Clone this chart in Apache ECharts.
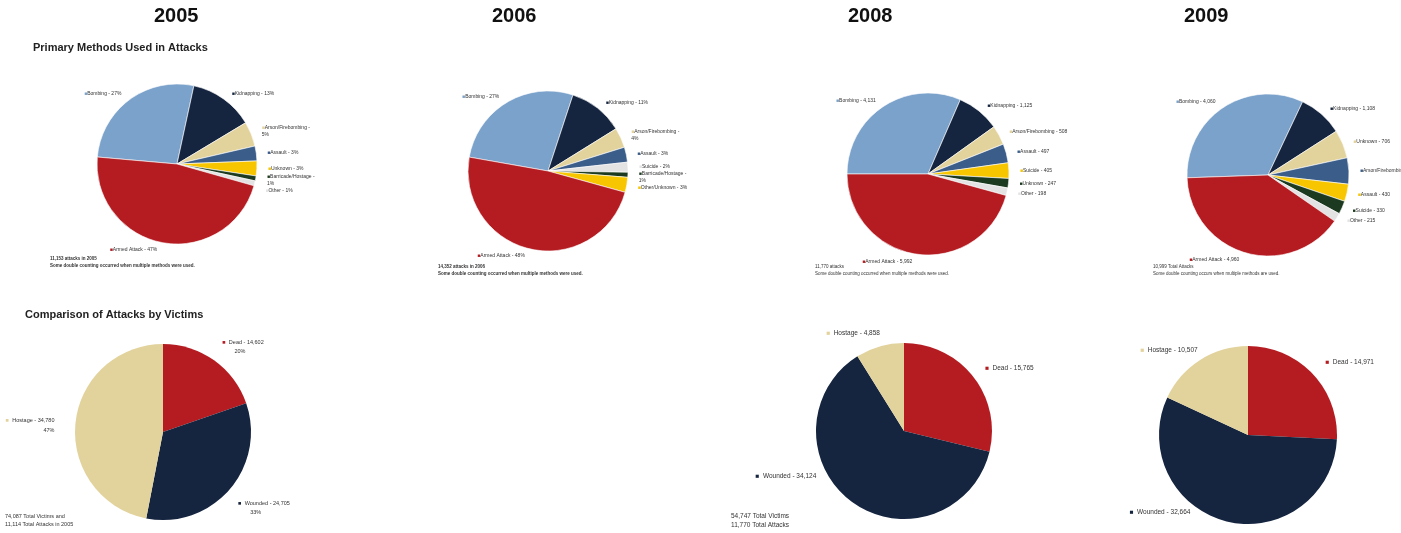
<!DOCTYPE html>
<html><head><meta charset="utf-8">
<script src="https://cdn.jsdelivr.net/npm/echarts@6/dist/echarts.min.js"></script>
<style>html,body{margin:0;padding:0;background:#fff}#c{width:1401px;height:533px}</style>
</head><body><div id="c"></div>
<script>
// ---- DATA ----
const yearLabels = ['2005', '2006', '2008', '2009'];
const methods2005Names = ['Bombing', 'Kidnapping', 'Arson/Firebombing', 'Assault', 'Unknown', 'Barricade/Hostage', 'Other', 'Armed Attack'];
const methods2005Pct = [27, 13, 5, 3, 3, 1, 1, 47];
const methods2006Names = ['Bombing', 'Kidnapping', 'Arson/Firebombing', 'Assault', 'Suicide', 'Barricade/Hostage', 'Other/Unknown', 'Armed Attack'];
const methods2006Pct = [27, 11, 4, 3, 2, 1, 3, 48];
const methods2008Names = ['Bombing', 'Kidnapping', 'Arson/Firebombing', 'Assault', 'Suicide', 'Unknown', 'Other', 'Armed Attack'];
const methods2008Counts = [4131, 1125, 508, 497, 405, 247, 198, 5992];
const methods2009Names = ['Bombing', 'Kidnapping', 'Unknown', 'Arson/Firebombing', 'Assault', 'Suicide', 'Other', 'Armed Attack'];
const methods2009Counts = [4060, 1108, 706, 651, 430, 330, 215, 4960];
const victimNames = ['Dead', 'Wounded', 'Hostage'];
const victims2005 = [14602, 24705, 34780];
const victims2005Pct = [20, 33, 47];
const victims2008 = [15765, 34124, 4858];
const victims2009 = [14971, 32664, 10507];
const notesTop = [
  ['11,153 attacks in 2005', 'Some double counting occurred when multiple methods were used.'],
  ['14,352 attacks in 2006', 'Some double counting occurred when multiple methods were used.'],
  ['11,770 attacks', 'Some double counting occurred when multiple methods were used.'],
  ['10,999 Total Attacks', 'Some double counting occurs when multiple methods are used.']
];
const notesBottom = [
  ['74,087 Total Victims and', '11,114 Total Attacks in 2005'],
  ['54,747 Total Victims', '11,770 Total Attacks']
];

// ---- STYLE ----
const C = { lb: '#7ba2cb', navy: '#15243f', tan: '#e2d29c', steel: '#3b5d89', yel: '#f7c600', dg: '#1b3a1f', lg: '#e3e3e3', red: '#b41c22' };
const col2005 = [C.lb, C.navy, C.tan, C.steel, C.yel, C.dg, C.lg, C.red];
const col2006 = [C.lb, C.navy, C.tan, C.steel, C.lg, C.dg, C.yel, C.red];
const col2008 = [C.lb, C.navy, C.tan, C.steel, C.yel, C.dg, C.lg, C.red];
const col2009 = [C.lb, C.navy, C.tan, C.steel, C.yel, C.dg, C.lg, C.red];
const colVict = [C.red, C.navy, C.tan];
const FONT = '"Liberation Sans", Arial, sans-serif';
// label nudges (dx, dy) for victim pies, in order Dead, Wounded, Hostage
const nudge2005 = [[-15, -3], [-17, 8], [8, 2]];
const nudge2008 = [[-14, 0], [-13, -37], [19, 0]];
const nudge2009 = [[-12, -2], [-18, -14], [20, 2]];

function fmt(n) { return n.toLocaleString('en-US'); }

function richFor(colors, size) {
  const r = { t: { fontSize: size, color: '#333', fontFamily: FONT, lineHeight: size + 2 } };
  colors.forEach((c, i) => { r['m' + i] = { fontSize: size, color: c, fontFamily: FONT, lineHeight: size + 2 }; });
  return r;
}

function methodPie(names, vals, colors, center, radius, start, isPct) {
  return {
    type: 'pie', center: center, radius: radius, startAngle: start, clockwise: true,
    animation: false, silent: true,
    data: names.map((n, i) => ({ name: n, value: vals[i], itemStyle: { color: colors[i] } })),
    itemStyle: { borderColor: '#fff', borderWidth: 0.6 },
    labelLine: { show: false, length: 7, length2: 4 },
    label: {
      show: true, position: 'outside', distanceToLabelLine: 0, overflow: 'none',
      formatter: p => {
        const v = isPct ? p.value + '%' : fmt(p.value);
        const sep = p.name.length > 14 && isPct ? ' -\n' : ' - ';
        return '{m' + p.dataIndex + '|■}{t|' + p.name + sep + v + '}';
      },
      rich: richFor(colors, 5)
    }
  };
}

function victimPie(vals, pcts, center, radius, nudge, size) {
  return {
    type: 'pie', center: center, radius: radius, startAngle: 90, clockwise: true,
    animation: false, silent: true,
    data: victimNames.map((n, i) => ({ name: n, value: vals[i], itemStyle: { color: colVict[i] } })),
    labelLine: { show: false, length: 14, length2: 10 },
    labelLayout: p => ({ dx: nudge[p.dataIndex][0], dy: nudge[p.dataIndex][1] }),
    label: {
      show: true, position: 'outside', overflow: 'none',
      formatter: p => {
        let s = '{m' + p.dataIndex + '|■} {t|' + p.name + ' - ' + fmt(p.value) + '}';
        if (pcts) s += '\n{t|        ' + pcts[p.dataIndex] + '%}';
        return s;
      },
      rich: richFor(colVict, size)
    }
  };
}

const chart = echarts.init(document.getElementById('c'), null, { renderer: 'canvas' });

const titleX = [176, 514, 870, 1206];
const graphic = [];
yearLabels.forEach((y, i) => graphic.push({ type: 'text', left: titleX[i] - 22, top: 6, style: { text: y, font: 'bold 20px ' + FONT, fill: '#111' } }));
graphic.push({ type: 'text', left: 33, top: 42, style: { text: 'Primary Methods Used in Attacks', font: 'bold 11px ' + FONT, fill: '#222' } });
graphic.push({ type: 'text', left: 25, top: 309, style: { text: 'Comparison of Attacks by Victims', font: 'bold 11px ' + FONT, fill: '#222' } });
const noteTopPos = [[50, 255, true], [438, 263, true], [815, 263, false], [1153, 263, false]];
notesTop.forEach((n, i) => {
  const p = noteTopPos[i];
  graphic.push({ type: 'text', left: p[0], top: p[1], style: { text: n[0] + '\n' + n[1], font: (p[2] ? 'bold ' : '') + '4.5px ' + FONT, fill: '#333', lineHeight: 7 } });
});
const noteBotPos = [[5, 512, 5.5], [731, 511, 6.5]];
notesBottom.forEach((n, i) => {
  const p = noteBotPos[i];
  graphic.push({ type: 'text', left: p[0], top: p[1], style: { text: n[0] + '\n' + n[1], font: p[2] + 'px ' + FONT, fill: '#333', lineHeight: p[2] + 3 } });
});

chart.setOption({
  backgroundColor: '#fff',
  animation: false,
  graphic: graphic,
  series: [
    methodPie(methods2005Names, methods2005Pct, col2005, [177, 164], 80, 175, true),
    methodPie(methods2006Names, methods2006Pct, col2006, [548, 171], 80, 170, true),
    methodPie(methods2008Names, methods2008Counts, col2008, [928, 174], 81, 180, false),
    methodPie(methods2009Names, methods2009Counts, col2009, [1268, 175], 81, 182, false),
    victimPie(victims2005, victims2005Pct, [163, 432], 88, nudge2005, 5.5),
    victimPie(victims2008, null, [904, 431], 88, nudge2008, 6.5),
    victimPie(victims2009, null, [1248, 435], 89, nudge2009, 6.5)
  ]
});
</script></body></html>
